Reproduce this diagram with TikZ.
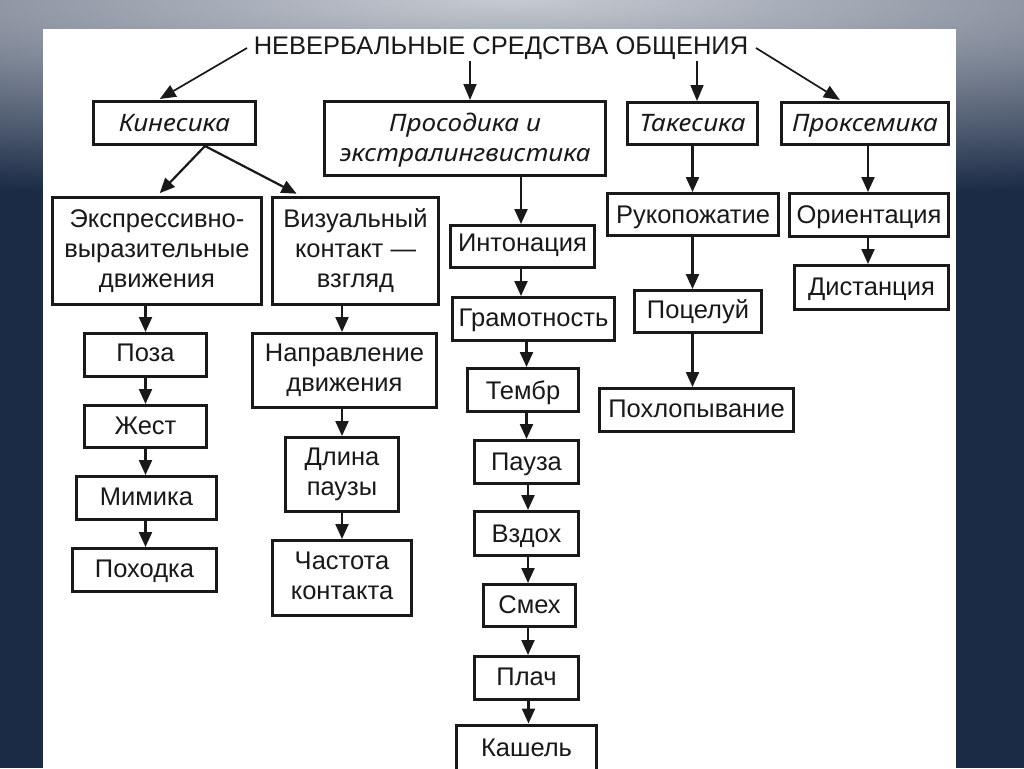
\documentclass[tikz,border=0pt]{standalone}
\usepackage{fontspec}
\setmainfont{Liberation Sans}
\newfontfamily\itfont{Noto Sans}[FakeStretch=1.09]
\usetikzlibrary{arrows.meta,calc}
\definecolor{navy}{RGB}{27,43,70}
\definecolor{bglight}{RGB}{198,202,209}
\definecolor{ink}{RGB}{25,25,25}
\newcommand\bx[1]{\begin{tabular}[t]{@{}c@{}}#1\end{tabular}}
\begin{document}
\begin{tikzpicture}[x=1pt,y=-1pt,
  box/.style={draw=ink, line width=3pt, inner sep=0pt, text=ink,
    font=\fontsize{25.5}{30}\selectfont},
  ibox/.style={box, font=\itfont\itshape\fontsize{24}{30}\selectfont},
  sl/.style={text height={15pt+#1pt}, text depth={15pt-#1pt}},
  ml/.style={text height={25pt+#1pt}, text depth={25pt-#1pt}},
  arr/.style={draw=ink, line width=2.2pt, -{Triangle[length=15pt,width=13pt]}},
  tarr/.style={draw=ink, line width=1.7pt, -{Triangle[length=16pt,width=13pt]}}]
\useasboundingbox (0,0) rectangle (1024,768);
% background
\begin{scope}
\clip (0,0) rectangle (1024,768);
\fill[navy] (0,0) rectangle (1024,768);
\shade[inner color=bglight, outer color=navy] (-1088,-200) rectangle (2112,200);
\end{scope}
\fill[white] (43,29) rectangle (956,768);
% title
\node[font=\fontsize{25.5}{30}\selectfont, text=ink, inner sep=0pt, anchor=base] (title) at (501,55) {НЕВЕРБАЛЬНЫЕ СРЕДСТВА ОБЩЕНИЯ};
\coordinate (tl) at (247,48);
\coordinate (tm) at (470,61);
\coordinate (tt) at (697,61);
\coordinate (tr) at (756,48);
% top level
\node[ibox, sl=8.7, minimum width=162pt, minimum height=43pt] (kin) at (174.5,123) {\bx{Кинесика}};
\node[ibox, ml=-6.8, minimum width=281pt, minimum height=74pt] (pros) at (465,138.5) {\bx{Просодика и\\экстралингвистика}};
\node[ibox, sl=8.2, minimum width=130pt, minimum height=42pt] (tak) at (692.5,123.5) {\bx{Такесика}};
\node[ibox, sl=8.2, minimum width=167pt, minimum height=42pt] (prox) at (865,123.5) {\bx{Проксемика}};
% kinesics
\node[box, ml=-24, minimum width=209pt, minimum height=107pt] (expr) at (157,251) {\bx{Экспрессивно-\\выразительные\\движения}};
\node[box, ml=-24, minimum width=166pt, minimum height=107pt] (viz) at (355.5,251) {\bx{Визуальный\\контакт —\\взгляд}};
\node[box, sl=6.6, minimum width=122pt, minimum height=43pt] (poza) at (145.5,355) {\bx{Поза}};
\node[box, sl=7.9, minimum width=122pt, minimum height=42pt] (zhest) at (145.5,426.5) {\bx{Жест}};
\node[box, sl=7.3, minimum width=140pt, minimum height=43pt] (mim) at (146.5,498) {\bx{Мимика}};
\node[box, sl=7.8, minimum width=144pt, minimum height=43pt] (poh) at (144.5,570) {\bx{Походка}};
\node[box, ml=-9.5, minimum width=184pt, minimum height=74pt] (napr) at (344.5,370.5) {\bx{Направление\\движения}};
\node[box, ml=-9.5, minimum width=113pt, minimum height=74pt] (dlina) at (342,474.5) {\bx{Длина\\паузы}};
\node[box, ml=-8.7, minimum width=139pt, minimum height=75pt] (chast) at (342,578) {\bx{Частота\\контакта}};
% prosody
\node[box, sl=5.1, minimum width=144pt, minimum height=42pt] (inton) at (522.5,246.5) {\bx{Интонация}};
\node[box, sl=7.1, minimum width=162pt, minimum height=43pt] (gram) at (533.5,319) {\bx{Грамотность}};
\node[box, sl=9.2, minimum width=111pt, minimum height=43pt] (tembr) at (523,390) {\bx{Тембр}};
\node[box, sl=8.6, minimum width=104pt, minimum height=43pt] (pauza) at (526.5,462) {\bx{Пауза}};
\node[box, sl=9.4, minimum width=104pt, minimum height=44pt] (vzdoh) at (526.5,533.5) {\bx{Вздох}};
\node[box, sl=7.9, minimum width=92pt, minimum height=42pt] (smeh) at (529.5,605.5) {\bx{Смех}};
\node[box, sl=7.8, minimum width=104pt, minimum height=43pt] (plach) at (526.5,678) {\bx{Плач}};
\node[box, sl=6.8, minimum width=140pt, minimum height=50pt] (kash) at (526.5,750) {\bx{Кашель}};
% takesics
\node[box, sl=8.8, minimum width=171pt, minimum height=42pt] (ruk) at (693,214.5) {\bx{Рукопожатие}};
\node[box, sl=6.8, minimum width=127pt, minimum height=42pt] (poc) at (698,311.5) {\bx{Поцелуй}};
\node[box, sl=7.3, minimum width=194pt, minimum height=43pt] (pohl) at (696.5,410) {\bx{Похлопывание}};
% proxemics
\node[box, sl=8.3, minimum width=159pt, minimum height=43pt] (orient) at (869,215) {\bx{Ориентация}};
\node[box, sl=7.5, minimum width=154pt, minimum height=44pt] (dist) at (871.5,287.5) {\bx{Дистанция}};
% title arrows
\draw[tarr, shorten >=2pt] (tl) -- ($(kin.north west)+(66,0)$);
\draw[tarr] (tm) -- ($(pros.north)+(5,0)$);
\draw[tarr] (tt) -- ($(tak.north)+(4.5,0)$);
\draw[tarr, shorten >=2pt] (tr) -- ($(prox.north west)+(61.5,0)$);
% kinesics arrows
\draw[arr, shorten >=4pt] ($(kin.south)+(30.5,0)$) -- (expr.north);
\draw[arr, shorten >=5pt] ($(kin.south)+(30.5,0)$) -- ($(viz.north west)+(30,0)$);
\draw[arr] (expr.south -| poza.north) -- (poza.north);
\draw[arr] (poza.south) -- (poza.south |- zhest.north);
\draw[arr] (zhest.south) -- (zhest.south |- mim.north);
\draw[arr] (mim.south -| zhest.south) -- (poh.north -| zhest.south);
\draw[arr] (viz.south -| dlina.north) -- (napr.north -| dlina.north);
\draw[arr] (napr.south -| dlina.north) -- (dlina.north);
\draw[arr] (dlina.south) -- (dlina.south |- chast.north);
% prosody arrows
\draw[arr] ($(pros.south -| inton.north)+(-1.5,0)$) -- ($(inton.north)+(-1.5,0)$);
\draw[arr] ($(inton.south)+(-1.5,0)$) -- ($(inton.south |- gram.north)+(-1.5,0)$);
\draw[arr] (gram.south -| pauza.north) -- (tembr.north -| pauza.north);
\draw[arr] (tembr.south -| pauza.north) -- (pauza.north);
\draw[arr] ($(pauza.south)+(1.5,0)$) -- ($(vzdoh.north)+(1.5,0)$);
\draw[arr] ($(vzdoh.south)+(1.5,0)$) -- ($(smeh.north -| vzdoh.north)+(1.5,0)$);
\draw[arr] ($(smeh.south -| plach.north)+(1.5,0)$) -- ($(plach.north)+(1.5,0)$);
\draw[arr] ($(plach.south)+(2,0)$) -- ($(kash.north)+(2,0)$);
% takesics arrows
\draw[arr] (tak.south) -- (tak.south |- ruk.north);
\draw[arr] (ruk.south -| tak.south) -- (poc.north -| tak.south);
\draw[arr] (poc.south -| tak.south) -- (pohl.north -| tak.south);
% proxemics arrows
\draw[arr] ($(prox.south -| orient.north)+(-1,0)$) -- ($(orient.north)+(-1,0)$);
\draw[arr] ($(orient.south)+(-1,0)$) -- ($(dist.north -| orient.south)+(-1,0)$);
\end{tikzpicture}
\end{document}
